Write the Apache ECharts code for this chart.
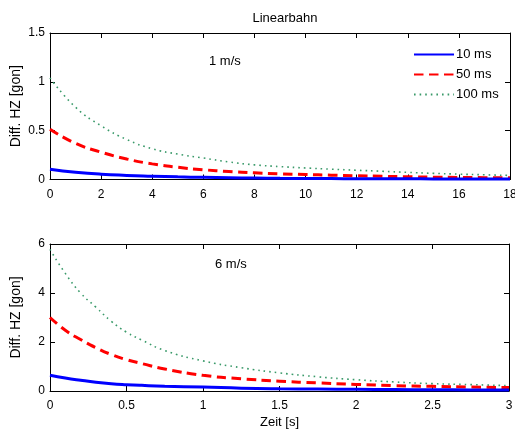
<!DOCTYPE html>
<html>
<head>
<meta charset="utf-8">
<script src="https://cdn.jsdelivr.net/npm/echarts@6/dist/echarts.min.js"></script>
<style>html,body{margin:0;padding:0;background:#fff}#c{width:515px;height:432px}</style>
</head>
<body>
<div id="c"></div>
<script>
// ---- data ----
var seriesNames = ['10 ms', '50 ms', '100 ms'];

// top subplot: 1 m/s
var tTop = [0, 1, 2, 3, 4, 5, 6, 7, 8, 9, 10, 11, 12, 13, 14, 15, 16, 17, 18];
var top10  = [0.106, 0.075, 0.054, 0.042, 0.034, 0.027, 0.022, 0.018, 0.015, 0.012, 0.010, 0.009, 0.008, 0.007, 0.007, 0.006, 0.006, 0.005, 0.005];
var top50  = [0.515, 0.37, 0.28, 0.21, 0.16, 0.125, 0.100, 0.082, 0.068, 0.058, 0.051, 0.044, 0.038, 0.033, 0.028, 0.024, 0.021, 0.019, 0.017];
var top100 = [1.04, 0.74, 0.55, 0.41, 0.315, 0.26, 0.22, 0.18, 0.15, 0.132, 0.118, 0.106, 0.095, 0.084, 0.073, 0.063, 0.055, 0.048, 0.042];

// bottom subplot: 6 m/s
var tBot = [0, 0.1, 0.2, 0.3, 0.4, 0.5, 0.6, 0.75, 1, 1.25, 1.5, 1.75, 2, 2.25, 2.5, 2.75, 3];
var bot10  = [0.64, 0.53, 0.44, 0.36, 0.30, 0.26, 0.23, 0.195, 0.16, 0.115, 0.09, 0.078, 0.07, 0.06, 0.05, 0.045, 0.04];
var bot50  = [3.0, 2.48, 2.10, 1.77, 1.49, 1.28, 1.12, 0.9, 0.64, 0.5, 0.40, 0.33, 0.27, 0.22, 0.19, 0.16, 0.14];
var bot100 = [5.78, 4.80, 4.00, 3.42, 2.85, 2.40, 2.08, 1.65, 1.23, 0.95, 0.74, 0.58, 0.46, 0.37, 0.30, 0.26, 0.22];

var titleText = 'Linearbahn';
var yName = 'Diff. HZ [gon]';
var xName = 'Zeit [s]';
var notes = ['1 m/s', '6 m/s'];

// ---- build ----
function pairs(xs, ys) { return xs.map(function (x, i) { return [x, ys[i]]; }); }
var FONT = '"Liberation Sans", Arial, sans-serif';
var colors = ['#0000ff', '#ff0000', '#3a9a6a'];
var lineStyles = [
  { color: colors[0], width: 3, type: 'solid' },
  { color: colors[1], width: 3, type: [9.5, 5.5], cap: 'butt' },
  { color: colors[2], width: 1.6, type: [1.6, 4], cap: 'butt' }
];

function mainX(gi, max, interval, name) {
  return {
    type: 'value', gridIndex: gi, min: 0, max: max, interval: interval, position: 'bottom',
    axisLine: { onZero: false, lineStyle: { color: '#000', width: 1 } },
    axisTick: { inside: true, length: 5, lineStyle: { color: '#000' } },
    axisLabel: { color: '#000', fontSize: 12, fontFamily: FONT, margin: 9, showMaxLabel: true },
    splitLine: { show: false },
    name: name || '', nameLocation: 'middle', nameGap: 25, nameMoveOverlap: false,
    nameTextStyle: { color: '#000', fontSize: 13, fontFamily: FONT }
  };
}
function mirrorX(gi, max, interval) {
  return {
    type: 'value', gridIndex: gi, min: 0, max: max, interval: interval, position: 'top',
    axisLine: { onZero: false, lineStyle: { color: '#000', width: 1 } },
    axisTick: { inside: true, length: 5, lineStyle: { color: '#000' } },
    axisLabel: { show: false }, splitLine: { show: false }
  };
}
function mainY(gi, max, interval) {
  return {
    type: 'value', gridIndex: gi, min: 0, max: max, interval: interval, position: 'left',
    axisLine: { show: true, onZero: false, lineStyle: { color: '#000', width: 1 } },
    axisTick: { show: true, inside: true, length: 5, lineStyle: { color: '#000' } },
    axisLabel: { color: '#000', fontSize: 12, fontFamily: FONT, margin: 5 },
    splitLine: { show: false },
    name: yName, nameLocation: 'middle', nameRotate: 90, nameGap: 27, nameMoveOverlap: false,
    nameTextStyle: { color: '#000', fontSize: 14, fontFamily: FONT }
  };
}
function mirrorY(gi, max, interval) {
  return {
    type: 'value', gridIndex: gi, min: 0, max: max, interval: interval, position: 'right',
    axisLine: { show: true, onZero: false, lineStyle: { color: '#000', width: 1 } },
    axisTick: { show: true, inside: true, length: 5, lineStyle: { color: '#000' } },
    axisLabel: { show: false }, splitLine: { show: false }
  };
}

var topData = [top10, top50, top100];
var botData = [bot10, bot50, bot100];
var series = [];
for (var i = 0; i < 3; i++) {
  series.push({
    name: seriesNames[i], type: 'line', xAxisIndex: 0, yAxisIndex: 0,
    data: pairs(tTop, topData[i]), showSymbol: false, symbol: 'none', smooth: 0.5,
    lineStyle: lineStyles[i], itemStyle: { color: colors[i] }, z: 3 - i, animation: false
  });
}
for (var j = 0; j < 3; j++) {
  series.push({
    name: seriesNames[j], type: 'line', xAxisIndex: 2, yAxisIndex: 2,
    data: pairs(tBot, botData[j]), showSymbol: false, symbol: 'none', smooth: 0.5,
    lineStyle: lineStyles[j], itemStyle: { color: colors[j] }, z: 3 - j, animation: false
  });
}

var chart = echarts.init(document.getElementById('c'), null, { renderer: 'canvas' });
chart.setOption({
  backgroundColor: '#fff',
  animation: false,
  title: {
    text: titleText, left: 280, textAlign: 'center', top: 7,
    textStyle: { color: '#000', fontSize: 13, fontWeight: 'normal', fontFamily: FONT }
  },
  legend: {
    data: seriesNames, orient: 'vertical', left: 408, top: 43,
    itemWidth: 40, itemHeight: 12, itemGap: 7,
    itemStyle: { opacity: 0 },
    textStyle: { color: '#000', fontSize: 13, fontFamily: FONT, padding: [0, 0, 0, -3] },
    selectedMode: false
  },
  grid: [
    { left: 50, top: 33, width: 460, height: 146.5, outerBoundsMode: 'none', containLabel: false },
    { left: 50, top: 244, width: 459, height: 147, outerBoundsMode: 'none', containLabel: false }
  ],
  xAxis: [
    mainX(0, 18, 2), mirrorX(0, 18, 2),
    mainX(1, 3, 0.5, xName), mirrorX(1, 3, 0.5)
  ],
  yAxis: [
    mainY(0, 1.5, 0.5), mirrorY(0, 1.5, 0.5),
    mainY(1, 6, 2), mirrorY(1, 6, 2)
  ],
  graphic: [
    { type: 'text', left: 209, top: 55, style: { text: notes[0], fill: '#000', font: '13px ' + FONT } },
    { type: 'text', left: 215, top: 258, style: { text: notes[1], fill: '#000', font: '13px ' + FONT } }
  ],
  series: series
});
</script>
</body>
</html>
